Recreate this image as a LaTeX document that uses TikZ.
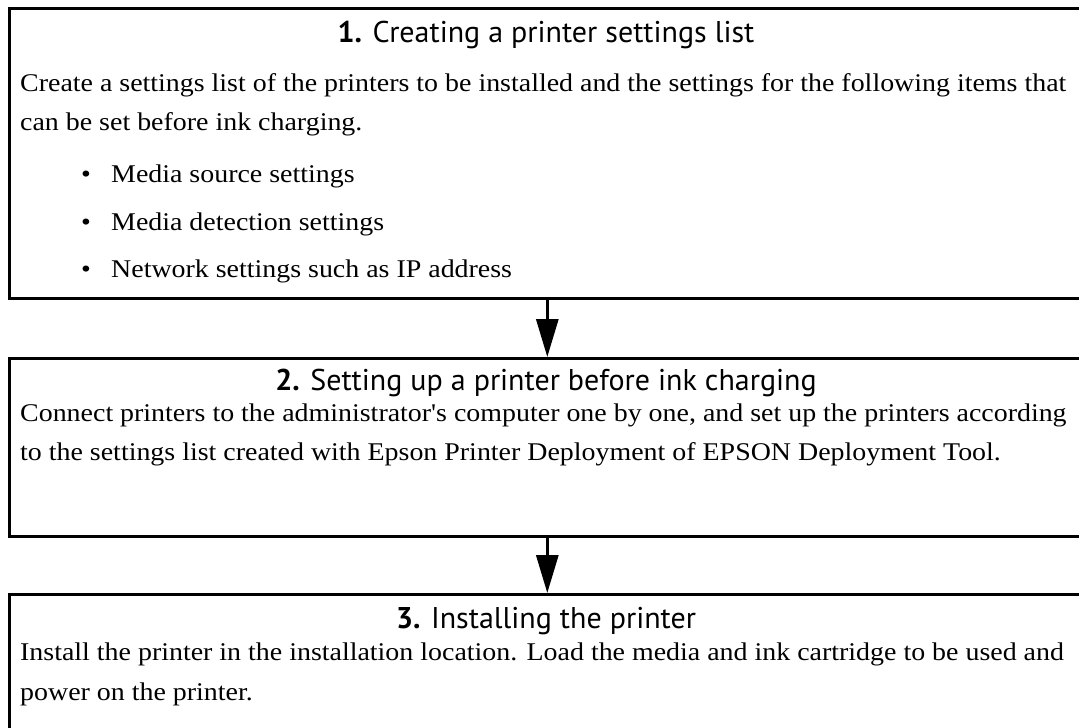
\documentclass[tikz,border=0pt]{standalone}
\usepackage{fontspec}
\setmainfont{Liberation Serif}[Ligatures=TeXOff,FakeStretch=1.095]
\newfontfamily\hdfont{PT Sans}
\usetikzlibrary{arrows.meta}
\begin{document}
\begin{tikzpicture}[x=1pt,y=-1pt,
  boxline/.style={draw,line width=2.6pt,anchor=north west,inner sep=0pt,minimum width=1076pt},
  body/.style={anchor=base west,inner sep=0pt,font=\fontsize{25.5}{30}\selectfont},
  head/.style={anchor=base,inner sep=0pt,font=\hdfont\fontsize{30}{34}\selectfont},
  bul/.style={anchor=base,inner sep=0pt,font=\fontsize{25.5}{30}\selectfont},
  flow/.style={line width=3pt,-{Triangle[length=38pt,width=22pt]}}]
\useasboundingbox (0,0) rectangle (1079,728);
\begin{scope}
\clip (0,0) rectangle (1079,728);
\node[boxline,minimum height=290pt] (b1) at (8,7) {};
\node[boxline,minimum height=178pt] (b2) at (8,357) {};
\node[boxline,minimum height=170pt] (b3) at (8,593) {};
\draw[flow] (b1.south) -- (b2.north);
\draw[flow] (b2.south) -- (b3.north);
% box 1
\node[head] (h1) at (546,42) {\textbf{1.} Creating a printer settings list};
\node[body] (t11) at (20,91) {Create a settings list of the printers to be installed and the settings for the following items that};
\node[body] (t12) at (20,130) {can be set before ink charging.};
\node[bul] (d1) at (86,182) {\textbullet};
\node[body] (i1) at (111,182) {Media source settings};
\node[bul] (d2) at (86,230) {\textbullet};
\node[body] (i2) at (111,230) {Media detection settings};
\node[bul] (d3) at (86,277) {\textbullet};
\node[body] (i3) at (111,277) {Network settings such as IP address};
% box 2
\node[head] (h2) at (546,390) {\textbf{2.} Setting up a printer before ink charging};
\node[body] (t21) at (20,421) {Connect printers to the administrator's computer one by one, and set up the printers according};
\node[body] (t22) at (20,460) {to the settings list created with Epson Printer Deployment of EPSON Deployment Tool.};
% box 3
\node[head] (h3) at (546,628) {\textbf{3.} Installing the printer};
\node[body] (t31) at (20,660) {Install the printer in the installation location. Load the media and ink cartridge to be used and};
\node[body] (t32) at (20,700) {power on the printer.};
\end{scope}
\end{tikzpicture}
\end{document}
